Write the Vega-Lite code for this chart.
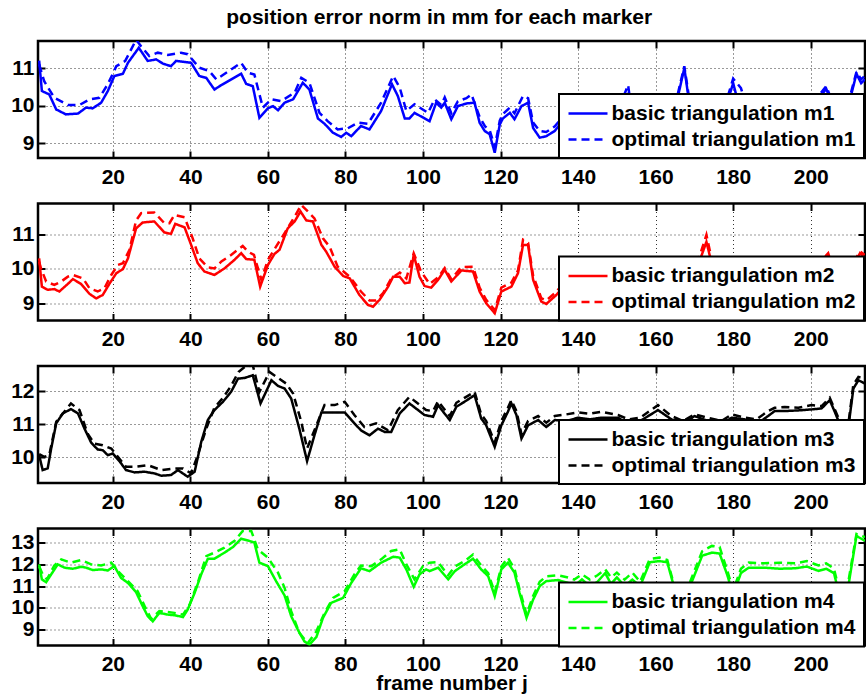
{
"$schema": "https://vega.github.io/schema/vega-lite/v6.json",
"padding": {"left": 9, "top": 6, "right": 0, "bottom": 0},
"background": "white",
"title": {"text": "position error norm in mm for each marker", "font": "Liberation Sans", "fontSize": 21, "fontWeight": "bold", "color": "#000", "anchor": "middle", "offset": 8},
"bounds": "flush",
"spacing": 45.5,
"datasets": {
"p1": [
{"s":"basic triangulation m1","f":1.0,"v":11.2},{"s":"basic triangulation m1","f":1.7,"v":10.39},{"s":"basic triangulation m1","f":3.6,"v":10.30},{"s":"basic triangulation m1","f":5.4,"v":9.90},{"s":"basic triangulation m1","f":7.9,"v":9.77},{"s":"basic triangulation m1","f":11,"v":9.79},{"s":"basic triangulation m1","f":13.1,"v":9.95},{"s":"basic triangulation m1","f":14.8,"v":9.93},{"s":"basic triangulation m1","f":17,"v":10.08},{"s":"basic triangulation m1","f":18.7,"v":10.39},{"s":"basic triangulation m1","f":20.4,"v":10.79},{"s":"basic triangulation m1","f":22.6,"v":10.85},{"s":"basic triangulation m1","f":23.9,"v":11.14},{"s":"basic triangulation m1","f":26.7,"v":11.54},{"s":"basic triangulation m1","f":29,"v":11.19},{"s":"basic triangulation m1","f":31.2,"v":11.23},{"s":"basic triangulation m1","f":32.9,"v":11.12},{"s":"basic triangulation m1","f":35,"v":11.05},{"s":"basic triangulation m1","f":36.3,"v":11.19},{"s":"basic triangulation m1","f":40.2,"v":11.14},{"s":"basic triangulation m1","f":42.3,"v":10.79},{"s":"basic triangulation m1","f":44.1,"v":10.74},{"s":"basic triangulation m1","f":46.2,"v":10.43},{"s":"basic triangulation m1","f":48,"v":10.55},{"s":"basic triangulation m1","f":53.1,"v":10.85},{"s":"basic triangulation m1","f":54.4,"v":10.58},{"s":"basic triangulation m1","f":56.1,"v":10.52},{"s":"basic triangulation m1","f":57.8,"v":9.68},{"s":"basic triangulation m1","f":60,"v":9.93},{"s":"basic triangulation m1","f":61.3,"v":9.99},{"s":"basic triangulation m1","f":62.6,"v":9.88},{"s":"basic triangulation m1","f":64.3,"v":10.08},{"s":"basic triangulation m1","f":66.5,"v":10.17},{"s":"basic triangulation m1","f":69,"v":10.61},{"s":"basic triangulation m1","f":70.7,"v":10.43},{"s":"basic triangulation m1","f":72.9,"v":9.66},{"s":"basic triangulation m1","f":74.6,"v":9.52},{"s":"basic triangulation m1","f":76.8,"v":9.28},{"s":"basic triangulation m1","f":78.9,"v":9.17},{"s":"basic triangulation m1","f":80.2,"v":9.28},{"s":"basic triangulation m1","f":81.5,"v":9.19},{"s":"basic triangulation m1","f":84,"v":9.46},{"s":"basic triangulation m1","f":86.2,"v":9.37},{"s":"basic triangulation m1","f":89.2,"v":9.86},{"s":"basic triangulation m1","f":92,"v":10.57},{"s":"basic triangulation m1","f":93.5,"v":10.26},{"s":"basic triangulation m1","f":95.3,"v":9.66},{"s":"basic triangulation m1","f":96.5,"v":9.66},{"s":"basic triangulation m1","f":97.8,"v":9.81},{"s":"basic triangulation m1","f":101.7,"v":9.59},{"s":"basic triangulation m1","f":103.4,"v":10.08},{"s":"basic triangulation m1","f":104.7,"v":9.95},{"s":"basic triangulation m1","f":105.6,"v":10.08},{"s":"basic triangulation m1","f":107.3,"v":9.64},{"s":"basic triangulation m1","f":109,"v":9.99},{"s":"basic triangulation m1","f":111.2,"v":10.06},{"s":"basic triangulation m1","f":113.3,"v":10.08},{"s":"basic triangulation m1","f":114.6,"v":9.55},{"s":"basic triangulation m1","f":115.9,"v":9.33},{"s":"basic triangulation m1","f":117.2,"v":9.24},{"s":"basic triangulation m1","f":118.5,"v":8.75},{"s":"basic triangulation m1","f":119.8,"v":9.50},{"s":"basic triangulation m1","f":120.6,"v":9.66},{"s":"basic triangulation m1","f":122.4,"v":9.81},{"s":"basic triangulation m1","f":123.6,"v":9.64},{"s":"basic triangulation m1","f":125.4,"v":9.99},{"s":"basic triangulation m1","f":127.1,"v":10.08},{"s":"basic triangulation m1","f":128.4,"v":9.41},{"s":"basic triangulation m1","f":130.1,"v":9.15},{"s":"basic triangulation m1","f":131.8,"v":9.19},{"s":"basic triangulation m1","f":134,"v":9.33},{"s":"basic triangulation m1","f":136,"v":9.6},{"s":"basic triangulation m1","f":138,"v":9.9},{"s":"basic triangulation m1","f":141,"v":9.5},{"s":"basic triangulation m1","f":144,"v":9.8},{"s":"basic triangulation m1","f":147,"v":9.4},{"s":"basic triangulation m1","f":150,"v":9.7},{"s":"basic triangulation m1","f":152.9,"v":10.3},{"s":"basic triangulation m1","f":154,"v":9.6},{"s":"basic triangulation m1","f":157.6,"v":8.5},{"s":"basic triangulation m1","f":159,"v":9.4},{"s":"basic triangulation m1","f":162,"v":9.8},{"s":"basic triangulation m1","f":165,"v":9.9},{"s":"basic triangulation m1","f":167.4,"v":11.0},{"s":"basic triangulation m1","f":168.5,"v":10.2},{"s":"basic triangulation m1","f":171,"v":9.7},{"s":"basic triangulation m1","f":174,"v":9.9},{"s":"basic triangulation m1","f":177,"v":9.6},{"s":"basic triangulation m1","f":180,"v":10.6},{"s":"basic triangulation m1","f":181.5,"v":10.0},{"s":"basic triangulation m1","f":184,"v":9.7},{"s":"basic triangulation m1","f":188,"v":9.9},{"s":"basic triangulation m1","f":192,"v":9.6},{"s":"basic triangulation m1","f":196,"v":9.8},{"s":"basic triangulation m1","f":200,"v":9.9},{"s":"basic triangulation m1","f":204,"v":10.45},{"s":"basic triangulation m1","f":206,"v":9.9},{"s":"basic triangulation m1","f":209,"v":9.7},{"s":"basic triangulation m1","f":211.8,"v":10.85},{"s":"basic triangulation m1","f":213,"v":10.6},{"s":"basic triangulation m1","f":214,"v":10.7},
{"s":"optimal triangulation m1","f":1.0,"v":11.1},{"s":"optimal triangulation m1","f":2.3,"v":10.65},{"s":"optimal triangulation m1","f":4.9,"v":10.21},{"s":"optimal triangulation m1","f":8.4,"v":10.02},{"s":"optimal triangulation m1","f":11.4,"v":10.02},{"s":"optimal triangulation m1","f":14,"v":10.17},{"s":"optimal triangulation m1","f":16.5,"v":10.21},{"s":"optimal triangulation m1","f":18.7,"v":10.57},{"s":"optimal triangulation m1","f":20.9,"v":11.05},{"s":"optimal triangulation m1","f":23.2,"v":11.19},{"s":"optimal triangulation m1","f":26,"v":11.75},{"s":"optimal triangulation m1","f":27.3,"v":11.58},{"s":"optimal triangulation m1","f":29.4,"v":11.32},{"s":"optimal triangulation m1","f":31.6,"v":11.41},{"s":"optimal triangulation m1","f":34.2,"v":11.35},{"s":"optimal triangulation m1","f":37.6,"v":11.41},{"s":"optimal triangulation m1","f":39.3,"v":11.37},{"s":"optimal triangulation m1","f":42.3,"v":11.01},{"s":"optimal triangulation m1","f":44.9,"v":10.92},{"s":"optimal triangulation m1","f":46.7,"v":10.70},{"s":"optimal triangulation m1","f":53.1,"v":11.14},{"s":"optimal triangulation m1","f":54.8,"v":10.88},{"s":"optimal triangulation m1","f":56.5,"v":10.83},{"s":"optimal triangulation m1","f":58.7,"v":9.95},{"s":"optimal triangulation m1","f":60.9,"v":10.17},{"s":"optimal triangulation m1","f":63.4,"v":10.12},{"s":"optimal triangulation m1","f":66.9,"v":10.35},{"s":"optimal triangulation m1","f":68.6,"v":10.74},{"s":"optimal triangulation m1","f":70.7,"v":10.61},{"s":"optimal triangulation m1","f":73.3,"v":9.81},{"s":"optimal triangulation m1","f":75.4,"v":9.59},{"s":"optimal triangulation m1","f":78,"v":9.37},{"s":"optimal triangulation m1","f":80.6,"v":9.40},{"s":"optimal triangulation m1","f":83.2,"v":9.55},{"s":"optimal triangulation m1","f":85.8,"v":9.52},{"s":"optimal triangulation m1","f":89.2,"v":10.08},{"s":"optimal triangulation m1","f":92.3,"v":10.79},{"s":"optimal triangulation m1","f":94,"v":10.48},{"s":"optimal triangulation m1","f":95.7,"v":9.86},{"s":"optimal triangulation m1","f":97.8,"v":10.04},{"s":"optimal triangulation m1","f":101.3,"v":9.81},{"s":"optimal triangulation m1","f":103,"v":10.17},{"s":"optimal triangulation m1","f":104.7,"v":10.02},{"s":"optimal triangulation m1","f":105.6,"v":10.22},{"s":"optimal triangulation m1","f":107.3,"v":9.8},{"s":"optimal triangulation m1","f":109,"v":10.12},{"s":"optimal triangulation m1","f":111.2,"v":10.2},{"s":"optimal triangulation m1","f":112.5,"v":10.30},{"s":"optimal triangulation m1","f":114.6,"v":9.7},{"s":"optimal triangulation m1","f":116,"v":9.45},{"s":"optimal triangulation m1","f":117.2,"v":9.35},{"s":"optimal triangulation m1","f":118.5,"v":8.9},{"s":"optimal triangulation m1","f":119.8,"v":9.6},{"s":"optimal triangulation m1","f":120.6,"v":9.78},{"s":"optimal triangulation m1","f":122.4,"v":9.95},{"s":"optimal triangulation m1","f":123.6,"v":9.8},{"s":"optimal triangulation m1","f":125.8,"v":10.26},{"s":"optimal triangulation m1","f":127.1,"v":10.2},{"s":"optimal triangulation m1","f":128.4,"v":9.55},{"s":"optimal triangulation m1","f":130.1,"v":9.33},{"s":"optimal triangulation m1","f":131.8,"v":9.3},{"s":"optimal triangulation m1","f":134,"v":9.45},{"s":"optimal triangulation m1","f":136,"v":9.7},{"s":"optimal triangulation m1","f":138,"v":10.0},{"s":"optimal triangulation m1","f":141,"v":9.6},{"s":"optimal triangulation m1","f":144,"v":9.9},{"s":"optimal triangulation m1","f":147,"v":9.5},{"s":"optimal triangulation m1","f":150,"v":9.8},{"s":"optimal triangulation m1","f":152.9,"v":10.55},{"s":"optimal triangulation m1","f":154,"v":9.7},{"s":"optimal triangulation m1","f":157.6,"v":8.55},{"s":"optimal triangulation m1","f":159,"v":9.5},{"s":"optimal triangulation m1","f":162,"v":9.9},{"s":"optimal triangulation m1","f":165,"v":10.0},{"s":"optimal triangulation m1","f":167.4,"v":11.05},{"s":"optimal triangulation m1","f":168.5,"v":10.3},{"s":"optimal triangulation m1","f":171,"v":9.8},{"s":"optimal triangulation m1","f":174,"v":10.0},{"s":"optimal triangulation m1","f":177,"v":9.7},{"s":"optimal triangulation m1","f":180,"v":10.72},{"s":"optimal triangulation m1","f":182,"v":10.47},{"s":"optimal triangulation m1","f":184,"v":9.8},{"s":"optimal triangulation m1","f":188,"v":10.0},{"s":"optimal triangulation m1","f":192,"v":9.7},{"s":"optimal triangulation m1","f":196,"v":9.9},{"s":"optimal triangulation m1","f":200,"v":10.0},{"s":"optimal triangulation m1","f":204,"v":10.52},{"s":"optimal triangulation m1","f":206,"v":10.0},{"s":"optimal triangulation m1","f":209,"v":9.8},{"s":"optimal triangulation m1","f":211.8,"v":10.9},{"s":"optimal triangulation m1","f":213,"v":10.7},{"s":"optimal triangulation m1","f":214,"v":10.8}
],
"p2": [
{"s":"basic triangulation m2","f":1.0,"v":10.30},{"s":"basic triangulation m2","f":1.7,"v":9.48},{"s":"basic triangulation m2","f":3.2,"v":9.39},{"s":"basic triangulation m2","f":4.9,"v":9.41},{"s":"basic triangulation m2","f":6.2,"v":9.34},{"s":"basic triangulation m2","f":8.4,"v":9.56},{"s":"basic triangulation m2","f":9.7,"v":9.70},{"s":"basic triangulation m2","f":11.8,"v":9.56},{"s":"basic triangulation m2","f":14,"v":9.27},{"s":"basic triangulation m2","f":15.7,"v":9.14},{"s":"basic triangulation m2","f":17.4,"v":9.24},{"s":"basic triangulation m2","f":19.1,"v":9.56},{"s":"basic triangulation m2","f":20.9,"v":9.87},{"s":"basic triangulation m2","f":22.6,"v":9.99},{"s":"basic triangulation m2","f":23.9,"v":10.30},{"s":"basic triangulation m2","f":26,"v":11.17},{"s":"basic triangulation m2","f":27.7,"v":11.34},{"s":"basic triangulation m2","f":30.7,"v":11.37},{"s":"basic triangulation m2","f":33.3,"v":11.05},{"s":"basic triangulation m2","f":35,"v":11.01},{"s":"basic triangulation m2","f":36.1,"v":11.30},{"s":"basic triangulation m2","f":38.5,"v":11.20},{"s":"basic triangulation m2","f":40.2,"v":10.69},{"s":"basic triangulation m2","f":41.9,"v":10.16},{"s":"basic triangulation m2","f":43.6,"v":9.92},{"s":"basic triangulation m2","f":46.2,"v":9.82},{"s":"basic triangulation m2","f":48.8,"v":10.01},{"s":"basic triangulation m2","f":51.4,"v":10.26},{"s":"basic triangulation m2","f":53.1,"v":10.45},{"s":"basic triangulation m2","f":54.4,"v":10.28},{"s":"basic triangulation m2","f":56.5,"v":10.26},{"s":"basic triangulation m2","f":58,"v":9.48},{"s":"basic triangulation m2","f":60,"v":10.11},{"s":"basic triangulation m2","f":61.7,"v":10.43},{"s":"basic triangulation m2","f":63,"v":10.55},{"s":"basic triangulation m2","f":65.1,"v":11.17},{"s":"basic triangulation m2","f":66.9,"v":11.37},{"s":"basic triangulation m2","f":68.4,"v":11.66},{"s":"basic triangulation m2","f":69.9,"v":11.40},{"s":"basic triangulation m2","f":71.6,"v":11.37},{"s":"basic triangulation m2","f":73.8,"v":10.69},{"s":"basic triangulation m2","f":75,"v":10.50},{"s":"basic triangulation m2","f":77.2,"v":10.06},{"s":"basic triangulation m2","f":79.4,"v":9.79},{"s":"basic triangulation m2","f":81.1,"v":9.72},{"s":"basic triangulation m2","f":83.6,"v":9.24},{"s":"basic triangulation m2","f":85.8,"v":8.95},{"s":"basic triangulation m2","f":87.1,"v":8.90},{"s":"basic triangulation m2","f":88.8,"v":9.10},{"s":"basic triangulation m2","f":91,"v":9.48},{"s":"basic triangulation m2","f":92.3,"v":9.77},{"s":"basic triangulation m2","f":94,"v":9.77},{"s":"basic triangulation m2","f":95.3,"v":9.58},{"s":"basic triangulation m2","f":96.5,"v":9.60},{"s":"basic triangulation m2","f":97.6,"v":10.40},{"s":"basic triangulation m2","f":99.1,"v":9.77},{"s":"basic triangulation m2","f":100.4,"v":9.50},{"s":"basic triangulation m2","f":102.1,"v":9.45},{"s":"basic triangulation m2","f":103.9,"v":9.68},{"s":"basic triangulation m2","f":105.6,"v":9.97},{"s":"basic triangulation m2","f":107.3,"v":9.63},{"s":"basic triangulation m2","f":109.9,"v":9.95},{"s":"basic triangulation m2","f":112.9,"v":9.92},{"s":"basic triangulation m2","f":114.6,"v":9.34},{"s":"basic triangulation m2","f":116.3,"v":9.0},{"s":"basic triangulation m2","f":118.5,"v":8.71},{"s":"basic triangulation m2","f":120.2,"v":9.34},{"s":"basic triangulation m2","f":122.8,"v":9.48},{"s":"basic triangulation m2","f":124.5,"v":9.87},{"s":"basic triangulation m2","f":125.8,"v":10.69},{"s":"basic triangulation m2","f":127.1,"v":10.69},{"s":"basic triangulation m2","f":128.4,"v":9.68},{"s":"basic triangulation m2","f":130.5,"v":9.05},{"s":"basic triangulation m2","f":131.8,"v":8.98},{"s":"basic triangulation m2","f":134.4,"v":9.24},{"s":"basic triangulation m2","f":137,"v":9.6},{"s":"basic triangulation m2","f":140,"v":9.9},{"s":"basic triangulation m2","f":144,"v":9.5},{"s":"basic triangulation m2","f":148,"v":9.7},{"s":"basic triangulation m2","f":152,"v":9.6},{"s":"basic triangulation m2","f":155,"v":9.2},{"s":"basic triangulation m2","f":157,"v":8.5},{"s":"basic triangulation m2","f":159,"v":9.3},{"s":"basic triangulation m2","f":163,"v":9.7},{"s":"basic triangulation m2","f":167,"v":9.5},{"s":"basic triangulation m2","f":170,"v":9.8},{"s":"basic triangulation m2","f":173.1,"v":10.78},{"s":"basic triangulation m2","f":175,"v":9.9},{"s":"basic triangulation m2","f":178,"v":9.6},{"s":"basic triangulation m2","f":182,"v":9.8},{"s":"basic triangulation m2","f":186,"v":9.5},{"s":"basic triangulation m2","f":190,"v":9.7},{"s":"basic triangulation m2","f":195,"v":9.6},{"s":"basic triangulation m2","f":200,"v":9.8},{"s":"basic triangulation m2","f":204.5,"v":10.35},{"s":"basic triangulation m2","f":206,"v":9.8},{"s":"basic triangulation m2","f":209,"v":9.7},{"s":"basic triangulation m2","f":212.7,"v":10.45},{"s":"basic triangulation m2","f":214,"v":10.3},
{"s":"optimal triangulation m2","f":1.0,"v":10.2},{"s":"optimal triangulation m2","f":1.5,"v":10.0},{"s":"optimal triangulation m2","f":2.8,"v":9.63},{"s":"optimal triangulation m2","f":4.9,"v":9.53},{"s":"optimal triangulation m2","f":6.7,"v":9.63},{"s":"optimal triangulation m2","f":8.4,"v":9.77},{"s":"optimal triangulation m2","f":9.7,"v":9.82},{"s":"optimal triangulation m2","f":12.3,"v":9.72},{"s":"optimal triangulation m2","f":14,"v":9.43},{"s":"optimal triangulation m2","f":16.1,"v":9.34},{"s":"optimal triangulation m2","f":17.8,"v":9.43},{"s":"optimal triangulation m2","f":19.6,"v":9.82},{"s":"optimal triangulation m2","f":21.3,"v":10.11},{"s":"optimal triangulation m2","f":22.6,"v":10.16},{"s":"optimal triangulation m2","f":24.3,"v":10.55},{"s":"optimal triangulation m2","f":26,"v":11.40},{"s":"optimal triangulation m2","f":27.3,"v":11.61},{"s":"optimal triangulation m2","f":30.7,"v":11.63},{"s":"optimal triangulation m2","f":33.3,"v":11.32},{"s":"optimal triangulation m2","f":34.6,"v":11.32},{"s":"optimal triangulation m2","f":35.9,"v":11.56},{"s":"optimal triangulation m2","f":38.5,"v":11.49},{"s":"optimal triangulation m2","f":40.6,"v":10.88},{"s":"optimal triangulation m2","f":42.3,"v":10.30},{"s":"optimal triangulation m2","f":44.5,"v":10.04},{"s":"optimal triangulation m2","f":46.2,"v":10.01},{"s":"optimal triangulation m2","f":48,"v":10.21},{"s":"optimal triangulation m2","f":50.5,"v":10.40},{"s":"optimal triangulation m2","f":53.5,"v":10.66},{"s":"optimal triangulation m2","f":54.8,"v":10.50},{"s":"optimal triangulation m2","f":56.4,"v":10.40},{"s":"optimal triangulation m2","f":58.3,"v":9.68},{"s":"optimal triangulation m2","f":60,"v":10.26},{"s":"optimal triangulation m2","f":62.1,"v":10.64},{"s":"optimal triangulation m2","f":64.3,"v":11.03},{"s":"optimal triangulation m2","f":66.9,"v":11.51},{"s":"optimal triangulation m2","f":68.6,"v":11.85},{"s":"optimal triangulation m2","f":70.3,"v":11.66},{"s":"optimal triangulation m2","f":72,"v":11.46},{"s":"optimal triangulation m2","f":74.2,"v":10.88},{"s":"optimal triangulation m2","f":75.9,"v":10.64},{"s":"optimal triangulation m2","f":78,"v":10.06},{"s":"optimal triangulation m2","f":81.1,"v":9.77},{"s":"optimal triangulation m2","f":84,"v":9.34},{"s":"optimal triangulation m2","f":86.2,"v":9.08},{"s":"optimal triangulation m2","f":87.9,"v":9.08},{"s":"optimal triangulation m2","f":89.7,"v":9.29},{"s":"optimal triangulation m2","f":91.8,"v":9.72},{"s":"optimal triangulation m2","f":94,"v":9.89},{"s":"optimal triangulation m2","f":95.7,"v":9.72},{"s":"optimal triangulation m2","f":97.6,"v":10.45},{"s":"optimal triangulation m2","f":99.5,"v":9.92},{"s":"optimal triangulation m2","f":101.7,"v":9.56},{"s":"optimal triangulation m2","f":103.9,"v":9.75},{"s":"optimal triangulation m2","f":105.6,"v":10.02},{"s":"optimal triangulation m2","f":107.3,"v":9.7},{"s":"optimal triangulation m2","f":109.9,"v":10.05},{"s":"optimal triangulation m2","f":112.9,"v":10.06},{"s":"optimal triangulation m2","f":114.6,"v":9.45},{"s":"optimal triangulation m2","f":116.3,"v":9.1},{"s":"optimal triangulation m2","f":118.5,"v":8.8},{"s":"optimal triangulation m2","f":120.2,"v":9.45},{"s":"optimal triangulation m2","f":122.8,"v":9.6},{"s":"optimal triangulation m2","f":124.5,"v":9.95},{"s":"optimal triangulation m2","f":125.8,"v":10.84},{"s":"optimal triangulation m2","f":127.1,"v":10.75},{"s":"optimal triangulation m2","f":128.4,"v":9.8},{"s":"optimal triangulation m2","f":130.5,"v":9.15},{"s":"optimal triangulation m2","f":131.8,"v":9.08},{"s":"optimal triangulation m2","f":134.4,"v":9.33},{"s":"optimal triangulation m2","f":137,"v":9.7},{"s":"optimal triangulation m2","f":140,"v":10.0},{"s":"optimal triangulation m2","f":144,"v":9.6},{"s":"optimal triangulation m2","f":148,"v":9.8},{"s":"optimal triangulation m2","f":152,"v":9.7},{"s":"optimal triangulation m2","f":155,"v":9.3},{"s":"optimal triangulation m2","f":157,"v":8.55},{"s":"optimal triangulation m2","f":159,"v":9.4},{"s":"optimal triangulation m2","f":163,"v":9.8},{"s":"optimal triangulation m2","f":167,"v":9.6},{"s":"optimal triangulation m2","f":170,"v":9.9},{"s":"optimal triangulation m2","f":173.1,"v":10.98},{"s":"optimal triangulation m2","f":175,"v":10.0},{"s":"optimal triangulation m2","f":178,"v":9.7},{"s":"optimal triangulation m2","f":182,"v":9.9},{"s":"optimal triangulation m2","f":186,"v":9.6},{"s":"optimal triangulation m2","f":190,"v":9.8},{"s":"optimal triangulation m2","f":195,"v":9.7},{"s":"optimal triangulation m2","f":200,"v":9.9},{"s":"optimal triangulation m2","f":204.5,"v":10.45},{"s":"optimal triangulation m2","f":206,"v":9.9},{"s":"optimal triangulation m2","f":209,"v":9.8},{"s":"optimal triangulation m2","f":212.7,"v":10.5},{"s":"optimal triangulation m2","f":214,"v":10.4}
],
"p3": [
{"s":"basic triangulation m3","f":1.0,"v":10.07},{"s":"basic triangulation m3","f":1.9,"v":9.62},{"s":"basic triangulation m3","f":3.2,"v":9.67},{"s":"basic triangulation m3","f":4.1,"v":10.27},{"s":"basic triangulation m3","f":5.4,"v":11.03},{"s":"basic triangulation m3","f":7.1,"v":11.33},{"s":"basic triangulation m3","f":9.2,"v":11.46},{"s":"basic triangulation m3","f":11,"v":11.33},{"s":"basic triangulation m3","f":12.7,"v":10.87},{"s":"basic triangulation m3","f":14.4,"v":10.45},{"s":"basic triangulation m3","f":16.1,"v":10.24},{"s":"basic triangulation m3","f":17.4,"v":10.22},{"s":"basic triangulation m3","f":18.7,"v":10.07},{"s":"basic triangulation m3","f":20,"v":10.12},{"s":"basic triangulation m3","f":21.7,"v":9.89},{"s":"basic triangulation m3","f":23.4,"v":9.62},{"s":"basic triangulation m3","f":25.6,"v":9.55},{"s":"basic triangulation m3","f":28.2,"v":9.57},{"s":"basic triangulation m3","f":30.7,"v":9.52},{"s":"basic triangulation m3","f":32.5,"v":9.45},{"s":"basic triangulation m3","f":35,"v":9.47},{"s":"basic triangulation m3","f":36.8,"v":9.62},{"s":"basic triangulation m3","f":39.3,"v":9.42},{"s":"basic triangulation m3","f":41.1,"v":9.57},{"s":"basic triangulation m3","f":42.8,"v":10.47},{"s":"basic triangulation m3","f":44.5,"v":11.13},{"s":"basic triangulation m3","f":46.2,"v":11.43},{"s":"basic triangulation m3","f":48.4,"v":11.68},{"s":"basic triangulation m3","f":50.5,"v":11.98},{"s":"basic triangulation m3","f":52.3,"v":12.38},{"s":"basic triangulation m3","f":54,"v":12.40},{"s":"basic triangulation m3","f":56.1,"v":12.48},{"s":"basic triangulation m3","f":58.1,"v":11.63},{"s":"basic triangulation m3","f":60.9,"v":12.33},{"s":"basic triangulation m3","f":62.6,"v":12.16},{"s":"basic triangulation m3","f":64.3,"v":12.08},{"s":"basic triangulation m3","f":66,"v":11.78},{"s":"basic triangulation m3","f":68.1,"v":10.87},{"s":"basic triangulation m3","f":70.1,"v":9.89},{"s":"basic triangulation m3","f":72,"v":10.67},{"s":"basic triangulation m3","f":73.8,"v":11.36},{"s":"basic triangulation m3","f":77.2,"v":11.36},{"s":"basic triangulation m3","f":79.8,"v":11.36},{"s":"basic triangulation m3","f":82.3,"v":11.03},{"s":"basic triangulation m3","f":84,"v":10.82},{"s":"basic triangulation m3","f":86.2,"v":10.67},{"s":"basic triangulation m3","f":88.4,"v":10.87},{"s":"basic triangulation m3","f":90.1,"v":10.77},{"s":"basic triangulation m3","f":91.8,"v":10.77},{"s":"basic triangulation m3","f":94,"v":11.33},{"s":"basic triangulation m3","f":96.5,"v":11.63},{"s":"basic triangulation m3","f":100.4,"v":11.28},{"s":"basic triangulation m3","f":102.6,"v":11.23},{"s":"basic triangulation m3","f":103.9,"v":11.58},{"s":"basic triangulation m3","f":105.2,"v":11.38},{"s":"basic triangulation m3","f":106.9,"v":11.13},{"s":"basic triangulation m3","f":108.6,"v":11.53},{"s":"basic triangulation m3","f":110.7,"v":11.68},{"s":"basic triangulation m3","f":113.3,"v":11.88},{"s":"basic triangulation m3","f":115,"v":11.18},{"s":"basic triangulation m3","f":116.3,"v":10.97},{"s":"basic triangulation m3","f":118.5,"v":10.32},{"s":"basic triangulation m3","f":120.2,"v":10.97},{"s":"basic triangulation m3","f":121.9,"v":11.38},{"s":"basic triangulation m3","f":122.8,"v":11.63},{"s":"basic triangulation m3","f":124.1,"v":11.28},{"s":"basic triangulation m3","f":125.4,"v":10.57},{"s":"basic triangulation m3","f":127.1,"v":10.97},{"s":"basic triangulation m3","f":129.7,"v":11.13},{"s":"basic triangulation m3","f":131.8,"v":10.92},{"s":"basic triangulation m3","f":134,"v":11.13},{"s":"basic triangulation m3","f":137,"v":11.1},{"s":"basic triangulation m3","f":140,"v":11.2},{"s":"basic triangulation m3","f":143,"v":11.15},{"s":"basic triangulation m3","f":146,"v":11.2},{"s":"basic triangulation m3","f":150.3,"v":11.2},{"s":"basic triangulation m3","f":153,"v":11.0},{"s":"basic triangulation m3","f":156,"v":11.1},{"s":"basic triangulation m3","f":160.6,"v":11.43},{"s":"basic triangulation m3","f":164.1,"v":11.15},{"s":"basic triangulation m3","f":167,"v":11.0},{"s":"basic triangulation m3","f":170,"v":11.25},{"s":"basic triangulation m3","f":173.5,"v":11.1},{"s":"basic triangulation m3","f":177,"v":11.0},{"s":"basic triangulation m3","f":179.6,"v":11.2},{"s":"basic triangulation m3","f":183,"v":11.15},{"s":"basic triangulation m3","f":186,"v":11.0},{"s":"basic triangulation m3","f":189,"v":11.25},{"s":"basic triangulation m3","f":190.7,"v":11.4},{"s":"basic triangulation m3","f":193.3,"v":11.4},{"s":"basic triangulation m3","f":196.8,"v":11.42},{"s":"basic triangulation m3","f":200.2,"v":11.45},{"s":"basic triangulation m3","f":202.8,"v":11.48},{"s":"basic triangulation m3","f":204.9,"v":11.73},{"s":"basic triangulation m3","f":206.2,"v":11.38},{"s":"basic triangulation m3","f":207.5,"v":11.0},{"s":"basic triangulation m3","f":209.7,"v":10.9},{"s":"basic triangulation m3","f":211,"v":12.08},{"s":"basic triangulation m3","f":212.3,"v":12.33},{"s":"basic triangulation m3","f":214,"v":12.23},
{"s":"optimal triangulation m3","f":1.0,"v":10.1},{"s":"optimal triangulation m3","f":2.3,"v":10.02},{"s":"optimal triangulation m3","f":3.6,"v":10.07},{"s":"optimal triangulation m3","f":5.4,"v":11.08},{"s":"optimal triangulation m3","f":9.2,"v":11.63},{"s":"optimal triangulation m3","f":11.4,"v":11.43},{"s":"optimal triangulation m3","f":13.5,"v":10.72},{"s":"optimal triangulation m3","f":15.2,"v":10.42},{"s":"optimal triangulation m3","f":17.4,"v":10.37},{"s":"optimal triangulation m3","f":19.6,"v":10.27},{"s":"optimal triangulation m3","f":21.3,"v":10.02},{"s":"optimal triangulation m3","f":23.4,"v":9.72},{"s":"optimal triangulation m3","f":25.6,"v":9.72},{"s":"optimal triangulation m3","f":29,"v":9.77},{"s":"optimal triangulation m3","f":32.5,"v":9.62},{"s":"optimal triangulation m3","f":35.9,"v":9.67},{"s":"optimal triangulation m3","f":38.1,"v":9.67},{"s":"optimal triangulation m3","f":40.2,"v":9.52},{"s":"optimal triangulation m3","f":41.9,"v":10.07},{"s":"optimal triangulation m3","f":44.1,"v":10.87},{"s":"optimal triangulation m3","f":46.2,"v":11.50},{"s":"optimal triangulation m3","f":48.4,"v":11.80},{"s":"optimal triangulation m3","f":50.5,"v":12.16},{"s":"optimal triangulation m3","f":52.4,"v":12.58},{"s":"optimal triangulation m3","f":54,"v":12.73},{"s":"optimal triangulation m3","f":56.1,"v":12.78},{"s":"optimal triangulation m3","f":57.8,"v":11.98},{"s":"optimal triangulation m3","f":60.4,"v":12.58},{"s":"optimal triangulation m3","f":62.6,"v":12.40},{"s":"optimal triangulation m3","f":64.7,"v":12.23},{"s":"optimal triangulation m3","f":66.5,"v":11.93},{"s":"optimal triangulation m3","f":68.6,"v":11.08},{"s":"optimal triangulation m3","f":70.1,"v":10.27},{"s":"optimal triangulation m3","f":72.5,"v":10.97},{"s":"optimal triangulation m3","f":74.6,"v":11.58},{"s":"optimal triangulation m3","f":77.2,"v":11.58},{"s":"optimal triangulation m3","f":79.8,"v":11.68},{"s":"optimal triangulation m3","f":82.3,"v":11.28},{"s":"optimal triangulation m3","f":84.9,"v":10.92},{"s":"optimal triangulation m3","f":87.9,"v":11.03},{"s":"optimal triangulation m3","f":91,"v":10.82},{"s":"optimal triangulation m3","f":93.5,"v":11.43},{"s":"optimal triangulation m3","f":96.5,"v":11.83},{"s":"optimal triangulation m3","f":100.8,"v":11.43},{"s":"optimal triangulation m3","f":102.6,"v":11.4},{"s":"optimal triangulation m3","f":103.9,"v":11.7},{"s":"optimal triangulation m3","f":105.2,"v":11.5},{"s":"optimal triangulation m3","f":106.9,"v":11.25},{"s":"optimal triangulation m3","f":108.6,"v":11.65},{"s":"optimal triangulation m3","f":110.7,"v":11.8},{"s":"optimal triangulation m3","f":113.3,"v":11.98},{"s":"optimal triangulation m3","f":115,"v":11.3},{"s":"optimal triangulation m3","f":116.3,"v":11.1},{"s":"optimal triangulation m3","f":118.5,"v":10.45},{"s":"optimal triangulation m3","f":120.2,"v":11.1},{"s":"optimal triangulation m3","f":121.9,"v":11.5},{"s":"optimal triangulation m3","f":122.8,"v":11.73},{"s":"optimal triangulation m3","f":124.1,"v":11.4},{"s":"optimal triangulation m3","f":125.4,"v":10.7},{"s":"optimal triangulation m3","f":127.1,"v":11.1},{"s":"optimal triangulation m3","f":129.7,"v":11.25},{"s":"optimal triangulation m3","f":131.8,"v":11.05},{"s":"optimal triangulation m3","f":134,"v":11.25},{"s":"optimal triangulation m3","f":137,"v":11.3},{"s":"optimal triangulation m3","f":140,"v":11.36},{"s":"optimal triangulation m3","f":143,"v":11.32},{"s":"optimal triangulation m3","f":146,"v":11.38},{"s":"optimal triangulation m3","f":150.3,"v":11.28},{"s":"optimal triangulation m3","f":153,"v":11.15},{"s":"optimal triangulation m3","f":156,"v":11.2},{"s":"optimal triangulation m3","f":160.6,"v":11.58},{"s":"optimal triangulation m3","f":164.1,"v":11.25},{"s":"optimal triangulation m3","f":167,"v":11.1},{"s":"optimal triangulation m3","f":170,"v":11.3},{"s":"optimal triangulation m3","f":173.5,"v":11.2},{"s":"optimal triangulation m3","f":177,"v":11.1},{"s":"optimal triangulation m3","f":179.6,"v":11.3},{"s":"optimal triangulation m3","f":183,"v":11.2},{"s":"optimal triangulation m3","f":186,"v":11.15},{"s":"optimal triangulation m3","f":189,"v":11.4},{"s":"optimal triangulation m3","f":190.7,"v":11.5},{"s":"optimal triangulation m3","f":193.3,"v":11.52},{"s":"optimal triangulation m3","f":196.8,"v":11.5},{"s":"optimal triangulation m3","f":200.2,"v":11.58},{"s":"optimal triangulation m3","f":202.8,"v":11.55},{"s":"optimal triangulation m3","f":204.9,"v":11.8},{"s":"optimal triangulation m3","f":206.2,"v":11.45},{"s":"optimal triangulation m3","f":207.5,"v":11.1},{"s":"optimal triangulation m3","f":209.7,"v":11.0},{"s":"optimal triangulation m3","f":211,"v":12.2},{"s":"optimal triangulation m3","f":212.3,"v":12.43},{"s":"optimal triangulation m3","f":214,"v":12.38}
],
"p4": [
{"s":"basic triangulation m4","f":1.0,"v":12.0},{"s":"basic triangulation m4","f":1.7,"v":11.31},{"s":"basic triangulation m4","f":2.8,"v":11.18},{"s":"basic triangulation m4","f":4.1,"v":11.54},{"s":"basic triangulation m4","f":5.8,"v":12.0},{"s":"basic triangulation m4","f":7.5,"v":11.85},{"s":"basic triangulation m4","f":9.7,"v":11.80},{"s":"basic triangulation m4","f":11.8,"v":11.89},{"s":"basic triangulation m4","f":13.1,"v":11.85},{"s":"basic triangulation m4","f":14.8,"v":11.74},{"s":"basic triangulation m4","f":17,"v":11.77},{"s":"basic triangulation m4","f":18.7,"v":11.72},{"s":"basic triangulation m4","f":20.4,"v":11.92},{"s":"basic triangulation m4","f":22.1,"v":11.38},{"s":"basic triangulation m4","f":23.9,"v":11.15},{"s":"basic triangulation m4","f":26,"v":10.72},{"s":"basic triangulation m4","f":27.7,"v":10.08},{"s":"basic triangulation m4","f":29,"v":9.62},{"s":"basic triangulation m4","f":30.3,"v":9.38},{"s":"basic triangulation m4","f":32,"v":9.77},{"s":"basic triangulation m4","f":34.2,"v":9.69},{"s":"basic triangulation m4","f":35.9,"v":9.66},{"s":"basic triangulation m4","f":38.1,"v":9.58},{"s":"basic triangulation m4","f":39.3,"v":9.92},{"s":"basic triangulation m4","f":41.1,"v":10.69},{"s":"basic triangulation m4","f":42.8,"v":11.54},{"s":"basic triangulation m4","f":44.5,"v":12.26},{"s":"basic triangulation m4","f":46.2,"v":12.26},{"s":"basic triangulation m4","f":48.8,"v":12.54},{"s":"basic triangulation m4","f":51,"v":12.80},{"s":"basic triangulation m4","f":53.1,"v":13.18},{"s":"basic triangulation m4","f":55.2,"v":13.08},{"s":"basic triangulation m4","f":56.5,"v":13.0},{"s":"basic triangulation m4","f":57.8,"v":12.08},{"s":"basic triangulation m4","f":60,"v":11.92},{"s":"basic triangulation m4","f":62.1,"v":11.23},{"s":"basic triangulation m4","f":64.3,"v":10.57},{"s":"basic triangulation m4","f":66,"v":9.62},{"s":"basic triangulation m4","f":67.7,"v":9.0},{"s":"basic triangulation m4","f":69.4,"v":8.46},{"s":"basic triangulation m4","f":70.7,"v":8.31},{"s":"basic triangulation m4","f":72.5,"v":8.66},{"s":"basic triangulation m4","f":74.2,"v":9.54},{"s":"basic triangulation m4","f":76.3,"v":10.23},{"s":"basic triangulation m4","f":79.4,"v":10.46},{"s":"basic triangulation m4","f":81.5,"v":11.15},{"s":"basic triangulation m4","f":84,"v":11.82},{"s":"basic triangulation m4","f":86.2,"v":11.69},{"s":"basic triangulation m4","f":89.2,"v":12.08},{"s":"basic triangulation m4","f":92.3,"v":12.35},{"s":"basic triangulation m4","f":94,"v":12.31},{"s":"basic triangulation m4","f":95.7,"v":11.77},{"s":"basic triangulation m4","f":97.6,"v":10.97},{"s":"basic triangulation m4","f":99.1,"v":11.54},{"s":"basic triangulation m4","f":100.8,"v":11.77},{"s":"basic triangulation m4","f":101.7,"v":11.69},{"s":"basic triangulation m4","f":103.9,"v":11.85},{"s":"basic triangulation m4","f":106.5,"v":11.31},{"s":"basic triangulation m4","f":108.2,"v":11.69},{"s":"basic triangulation m4","f":110.7,"v":12.0},{"s":"basic triangulation m4","f":112.9,"v":12.26},{"s":"basic triangulation m4","f":115,"v":11.77},{"s":"basic triangulation m4","f":116.8,"v":11.46},{"s":"basic triangulation m4","f":118.5,"v":10.54},{"s":"basic triangulation m4","f":120.2,"v":11.77},{"s":"basic triangulation m4","f":121.9,"v":12.08},{"s":"basic triangulation m4","f":123.6,"v":11.62},{"s":"basic triangulation m4","f":124.9,"v":10.69},{"s":"basic triangulation m4","f":126.7,"v":9.54},{"s":"basic triangulation m4","f":128.4,"v":10.38},{"s":"basic triangulation m4","f":130.1,"v":11.0},{"s":"basic triangulation m4","f":131.8,"v":11.23},{"s":"basic triangulation m4","f":134.8,"v":11.28},{"s":"basic triangulation m4","f":137.4,"v":11.15},{"s":"basic triangulation m4","f":139,"v":11.0},{"s":"basic triangulation m4","f":141,"v":11.31},{"s":"basic triangulation m4","f":143,"v":11.0},{"s":"basic triangulation m4","f":145,"v":11.2},{"s":"basic triangulation m4","f":147,"v":11.6},{"s":"basic triangulation m4","f":148.5,"v":11.1},{"s":"basic triangulation m4","f":150,"v":11.4},{"s":"basic triangulation m4","f":152,"v":11.0},{"s":"basic triangulation m4","f":154,"v":11.3},{"s":"basic triangulation m4","f":156,"v":11.0},{"s":"basic triangulation m4","f":158.5,"v":12.1},{"s":"basic triangulation m4","f":161,"v":12.15},{"s":"basic triangulation m4","f":163,"v":12.1},{"s":"basic triangulation m4","f":165,"v":10.8},{"s":"basic triangulation m4","f":168,"v":10.6},{"s":"basic triangulation m4","f":170,"v":11.5},{"s":"basic triangulation m4","f":172,"v":12.4},{"s":"basic triangulation m4","f":174.5,"v":12.54},{"s":"basic triangulation m4","f":176.5,"v":12.5},{"s":"basic triangulation m4","f":178.5,"v":11.5},{"s":"basic triangulation m4","f":180,"v":10.6},{"s":"basic triangulation m4","f":182,"v":11.6},{"s":"basic triangulation m4","f":184,"v":11.85},{"s":"basic triangulation m4","f":188,"v":11.85},{"s":"basic triangulation m4","f":192,"v":11.8},{"s":"basic triangulation m4","f":196,"v":11.82},{"s":"basic triangulation m4","f":199,"v":11.9},{"s":"basic triangulation m4","f":202,"v":11.7},{"s":"basic triangulation m4","f":204,"v":11.8},{"s":"basic triangulation m4","f":206,"v":11.6},{"s":"basic triangulation m4","f":207.5,"v":10.5},{"s":"basic triangulation m4","f":209.7,"v":11.0},{"s":"basic triangulation m4","f":211.8,"v":13.31},{"s":"basic triangulation m4","f":214,"v":13.08},
{"s":"optimal triangulation m4","f":1.0,"v":11.9},{"s":"optimal triangulation m4","f":1.9,"v":11.54},{"s":"optimal triangulation m4","f":3,"v":11.31},{"s":"optimal triangulation m4","f":4.9,"v":11.95},{"s":"optimal triangulation m4","f":6.7,"v":12.23},{"s":"optimal triangulation m4","f":9.2,"v":12.08},{"s":"optimal triangulation m4","f":11.8,"v":12.2},{"s":"optimal triangulation m4","f":14.4,"v":12.0},{"s":"optimal triangulation m4","f":17,"v":11.95},{"s":"optimal triangulation m4","f":19.6,"v":12.08},{"s":"optimal triangulation m4","f":21.7,"v":11.62},{"s":"optimal triangulation m4","f":23.9,"v":11.23},{"s":"optimal triangulation m4","f":26.4,"v":10.77},{"s":"optimal triangulation m4","f":28.2,"v":10.08},{"s":"optimal triangulation m4","f":29.9,"v":9.49},{"s":"optimal triangulation m4","f":32,"v":9.85},{"s":"optimal triangulation m4","f":35.9,"v":9.77},{"s":"optimal triangulation m4","f":38.1,"v":9.69},{"s":"optimal triangulation m4","f":39.8,"v":10.15},{"s":"optimal triangulation m4","f":41.9,"v":11.15},{"s":"optimal triangulation m4","f":44.1,"v":12.38},{"s":"optimal triangulation m4","f":46.2,"v":12.54},{"s":"optimal triangulation m4","f":48.8,"v":12.77},{"s":"optimal triangulation m4","f":51.4,"v":13.08},{"s":"optimal triangulation m4","f":53.5,"v":13.54},{"s":"optimal triangulation m4","f":55.7,"v":13.54},{"s":"optimal triangulation m4","f":57.4,"v":12.69},{"s":"optimal triangulation m4","f":60,"v":12.31},{"s":"optimal triangulation m4","f":62.6,"v":11.62},{"s":"optimal triangulation m4","f":64.3,"v":10.92},{"s":"optimal triangulation m4","f":66,"v":9.85},{"s":"optimal triangulation m4","f":68.1,"v":8.85},{"s":"optimal triangulation m4","f":70.3,"v":8.38},{"s":"optimal triangulation m4","f":72.5,"v":8.92},{"s":"optimal triangulation m4","f":74.6,"v":9.77},{"s":"optimal triangulation m4","f":76.8,"v":10.46},{"s":"optimal triangulation m4","f":79.8,"v":10.77},{"s":"optimal triangulation m4","f":82.3,"v":11.54},{"s":"optimal triangulation m4","f":84,"v":11.95},{"s":"optimal triangulation m4","f":86.7,"v":11.92},{"s":"optimal triangulation m4","f":89.2,"v":12.23},{"s":"optimal triangulation m4","f":91.8,"v":12.62},{"s":"optimal triangulation m4","f":94,"v":12.69},{"s":"optimal triangulation m4","f":95.7,"v":12.0},{"s":"optimal triangulation m4","f":97.8,"v":11.31},{"s":"optimal triangulation m4","f":100,"v":11.92},{"s":"optimal triangulation m4","f":101.7,"v":12.08},{"s":"optimal triangulation m4","f":103.9,"v":12.1},{"s":"optimal triangulation m4","f":106.5,"v":11.5},{"s":"optimal triangulation m4","f":108.2,"v":11.9},{"s":"optimal triangulation m4","f":110.7,"v":12.15},{"s":"optimal triangulation m4","f":112.9,"v":12.45},{"s":"optimal triangulation m4","f":115,"v":11.95},{"s":"optimal triangulation m4","f":116.8,"v":11.6},{"s":"optimal triangulation m4","f":118.5,"v":10.7},{"s":"optimal triangulation m4","f":120.2,"v":11.9},{"s":"optimal triangulation m4","f":121.9,"v":12.3},{"s":"optimal triangulation m4","f":123.6,"v":11.8},{"s":"optimal triangulation m4","f":124.9,"v":10.85},{"s":"optimal triangulation m4","f":126.7,"v":9.7},{"s":"optimal triangulation m4","f":128.4,"v":10.55},{"s":"optimal triangulation m4","f":130.1,"v":11.2},{"s":"optimal triangulation m4","f":131.8,"v":11.45},{"s":"optimal triangulation m4","f":134.8,"v":11.5},{"s":"optimal triangulation m4","f":137.4,"v":11.4},{"s":"optimal triangulation m4","f":139,"v":11.3},{"s":"optimal triangulation m4","f":141,"v":11.54},{"s":"optimal triangulation m4","f":143,"v":11.3},{"s":"optimal triangulation m4","f":145,"v":11.5},{"s":"optimal triangulation m4","f":147,"v":11.77},{"s":"optimal triangulation m4","f":148.5,"v":11.4},{"s":"optimal triangulation m4","f":150,"v":11.62},{"s":"optimal triangulation m4","f":152,"v":11.3},{"s":"optimal triangulation m4","f":154,"v":11.62},{"s":"optimal triangulation m4","f":156,"v":11.2},{"s":"optimal triangulation m4","f":158.5,"v":12.25},{"s":"optimal triangulation m4","f":161,"v":12.31},{"s":"optimal triangulation m4","f":163,"v":12.2},{"s":"optimal triangulation m4","f":165,"v":10.9},{"s":"optimal triangulation m4","f":168,"v":10.8},{"s":"optimal triangulation m4","f":170,"v":11.7},{"s":"optimal triangulation m4","f":172,"v":12.6},{"s":"optimal triangulation m4","f":174.5,"v":12.85},{"s":"optimal triangulation m4","f":176.5,"v":12.8},{"s":"optimal triangulation m4","f":178.5,"v":11.7},{"s":"optimal triangulation m4","f":180,"v":10.8},{"s":"optimal triangulation m4","f":182,"v":11.8},{"s":"optimal triangulation m4","f":184,"v":12.08},{"s":"optimal triangulation m4","f":188,"v":12.05},{"s":"optimal triangulation m4","f":192,"v":12.08},{"s":"optimal triangulation m4","f":196,"v":12.05},{"s":"optimal triangulation m4","f":199,"v":12.15},{"s":"optimal triangulation m4","f":202,"v":11.95},{"s":"optimal triangulation m4","f":204,"v":12.05},{"s":"optimal triangulation m4","f":206,"v":11.8},{"s":"optimal triangulation m4","f":207.5,"v":10.7},{"s":"optimal triangulation m4","f":209.7,"v":11.2},{"s":"optimal triangulation m4","f":211.8,"v":13.4},{"s":"optimal triangulation m4","f":214,"v":13.25}
]
},
"vconcat": [
{"width": 827, "height": 117, "data": {"name": "p1"},
 "layer": [
  {"mark": {"type": "line", "color": "#0000ff", "strokeWidth": 2.5, "clip": true},
   "encoding": {
    "x": {"field": "f", "type": "quantitative", "scale": {"domain": [0.7, 214], "nice": false, "zero": false}, "axis": {"orient": "bottom", "values": [20,40,60,80,100,120,140,160,180,200], "title": null, "grid": true}},
    "y": {"field": "v", "type": "quantitative", "scale": {"domain": [8.61, 11.72], "nice": false, "zero": false}, "axis": {"orient": "left", "values": [9,10,11], "title": null, "grid": true}},
    "strokeDash": {"field": "s", "type": "nominal", "scale": {"domain": ["basic triangulation m1", "optimal triangulation m1"], "range": [[1,0],[8,5]]}, "legend": {"orient": "none", "legendX": 521, "legendY": 53, "title": null, "symbolStrokeColor": "#0000ff"}}
   }},
  {"mark": {"type": "point", "opacity": 0},
   "encoding": {
    "x": {"field": "f", "type": "quantitative", "axis": {"orient": "top", "values": [20,40,60,80,100,120,140,160,180,200], "labels": false, "grid": false, "title": null}},
    "y": {"field": "v", "type": "quantitative", "axis": {"orient": "right", "values": [9,10,11], "labels": false, "grid": false, "title": null}}
   }}
 ],
 "resolve": {"axis": {"x": "independent", "y": "independent"}}
},
{"width": 827, "height": 117, "data": {"name": "p2"},
 "layer": [
  {"mark": {"type": "line", "color": "#ff0000", "strokeWidth": 2.5, "clip": true},
   "encoding": {
    "x": {"field": "f", "type": "quantitative", "scale": {"domain": [0.7, 214], "nice": false, "zero": false}, "axis": {"orient": "bottom", "values": [20,40,60,80,100,120,140,160,180,200], "title": null, "grid": true}},
    "y": {"field": "v", "type": "quantitative", "scale": {"domain": [8.5, 11.89], "nice": false, "zero": false}, "axis": {"orient": "left", "values": [9,10,11], "title": null, "grid": true}},
    "strokeDash": {"field": "s", "type": "nominal", "scale": {"domain": ["basic triangulation m2", "optimal triangulation m2"], "range": [[1,0],[8,5]]}, "legend": {"orient": "none", "legendX": 521, "legendY": 53, "title": null, "symbolStrokeColor": "#ff0000"}}
   }},
  {"mark": {"type": "point", "opacity": 0},
   "encoding": {
    "x": {"field": "f", "type": "quantitative", "axis": {"orient": "top", "values": [20,40,60,80,100,120,140,160,180,200], "labels": false, "grid": false, "title": null}},
    "y": {"field": "v", "type": "quantitative", "axis": {"orient": "right", "values": [9,10,11], "labels": false, "grid": false, "title": null}}
   }}
 ],
 "resolve": {"axis": {"x": "independent", "y": "independent"}}
},
{"width": 827, "height": 117, "data": {"name": "p3"},
 "layer": [
  {"mark": {"type": "line", "color": "#000000", "strokeWidth": 2.5, "clip": true},
   "encoding": {
    "x": {"field": "f", "type": "quantitative", "scale": {"domain": [0.7, 214], "nice": false, "zero": false}, "axis": {"orient": "bottom", "values": [20,40,60,80,100,120,140,160,180,200], "title": null, "grid": true}},
    "y": {"field": "v", "type": "quantitative", "scale": {"domain": [9.23, 12.76], "nice": false, "zero": false}, "axis": {"orient": "left", "values": [10,11,12], "title": null, "grid": true}},
    "strokeDash": {"field": "s", "type": "nominal", "scale": {"domain": ["basic triangulation m3", "optimal triangulation m3"], "range": [[1,0],[8,5]]}, "legend": {"orient": "none", "legendX": 521, "legendY": 54, "title": null, "symbolStrokeColor": "#000000"}}
   }},
  {"mark": {"type": "point", "opacity": 0},
   "encoding": {
    "x": {"field": "f", "type": "quantitative", "axis": {"orient": "top", "values": [20,40,60,80,100,120,140,160,180,200], "labels": false, "grid": false, "title": null}},
    "y": {"field": "v", "type": "quantitative", "axis": {"orient": "right", "values": [10,11,12], "labels": false, "grid": false, "title": null}}
   }}
 ],
 "resolve": {"axis": {"x": "independent", "y": "independent"}}
},
{"width": 827, "height": 117, "data": {"name": "p4"},
 "layer": [
  {"mark": {"type": "line", "color": "#00ff00", "strokeWidth": 2.5, "clip": true},
   "encoding": {
    "x": {"field": "f", "type": "quantitative", "scale": {"domain": [0.7, 214], "nice": false, "zero": false}, "axis": {"orient": "bottom", "values": [20,40,60,80,100,120,140,160,180,200], "title": "frame number j", "titleBaseline": "alphabetic", "titleY": 44, "grid": true}},
    "y": {"field": "v", "type": "quantitative", "scale": {"domain": [8.27, 13.65], "nice": false, "zero": false}, "axis": {"orient": "left", "values": [9,10,11,12,13], "title": null, "grid": true}},
    "strokeDash": {"field": "s", "type": "nominal", "scale": {"domain": ["basic triangulation m4", "optimal triangulation m4"], "range": [[1,0],[8,5]]}, "legend": {"orient": "none", "legendX": 521, "legendY": 54, "title": null, "symbolStrokeColor": "#00ff00"}}
   }},
  {"mark": {"type": "point", "opacity": 0},
   "encoding": {
    "x": {"field": "f", "type": "quantitative", "axis": {"orient": "top", "values": [20,40,60,80,100,120,140,160,180,200], "labels": false, "grid": false, "title": null}},
    "y": {"field": "v", "type": "quantitative", "axis": {"orient": "right", "values": [9,10,11,12,13], "labels": false, "grid": false, "title": null}}
   }}
 ],
 "resolve": {"axis": {"x": "independent", "y": "independent"}}
}
],
"resolve": {"scale": {"strokeDash": "independent"}, "legend": {"strokeDash": "independent"}},
"config": {
 "view": {"stroke": "#000000", "strokeWidth": 2.5},
 "font": "Liberation Sans",
 "axis": {"labelFont": "Liberation Sans", "labelFontSize": 21, "labelFontWeight": "bold", "labelColor": "#000000", "domain": false, "ticks": true, "tickColor": "#000000", "tickWidth": 2, "tickSize": -7, "gridColor": "#000000", "gridDash": [1,3], "gridWidth": 1, "gridOpacity": 0.8, "titleFont": "Liberation Sans", "titleFontSize": 21, "titleFontWeight": "bold", "titleColor": "#000000", "labelFlush": false, "labelOverlap": false},
 "axisX": {"labelPadding": 15},
 "axisY": {"labelPadding": 11},
 "legend": {"labelFont": "Liberation Sans", "labelFontSize": 21, "labelFontWeight": "bold", "labelColor": "#000000", "labelLimit": 0, "strokeColor": "#000000", "fillColor": "#ffffff", "strokeWidth": 2, "padding": 8, "rowPadding": 4, "symbolType": "M-1.95,0H1.95", "symbolSize": 400, "symbolStrokeWidth": 2.5, "symbolOffset": 9.5, "labelOffset": 12, "cornerRadius": 0}
}
}
